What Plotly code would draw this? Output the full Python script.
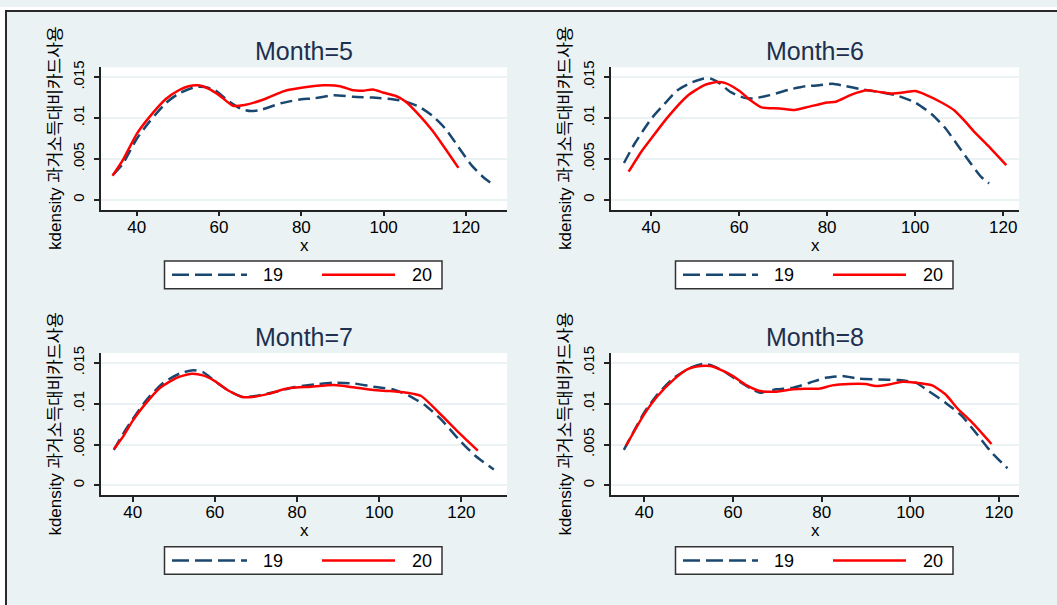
import plotly.graph_objects as go

# ---------------- data (density values) ----------------
months = ["Month=5", "Month=6", "Month=7", "Month=8"]
series_names = ["19", "20"]
x_ticks = [40, 60, 80, 100, 120]
y_ticks = [0, 0.005, 0.01, 0.015]
y_tick_text = ["0", ".005", ".01", ".015"]

m5_x19 = [34.3, 36.6, 40, 43, 47, 50.2, 54.2, 56.6, 59, 62.2, 65.4, 67.8, 70.2, 75, 80, 83, 87.8,
          92.6, 97.4, 102.2, 105.4, 108.6, 111.8, 115, 118.2, 121.4, 124.6, 126.8]
m5_y19 = [0.0031, 0.0044, 0.00746, 0.0095, 0.0118, 0.0130, 0.0138, 0.0138, 0.0134, 0.0121, 0.0111,
          0.01085, 0.0110, 0.0118, 0.0123, 0.0124, 0.0128, 0.0126, 0.0125, 0.0123, 0.0120, 0.0114,
          0.0103, 0.0087, 0.00645, 0.0042, 0.0026, 0.0018]
m5_x20 = [34.1, 36.6, 40, 43, 47, 50.2, 52.6, 55, 57.4, 60, 63.4, 66.2, 71, 75.8, 80, 85.4, 89.4,
          92.6, 95, 97.4, 100, 103, 105.4, 108.2, 111.8, 115, 118.2]
m5_y20 = [0.00294, 0.00484, 0.00806, 0.01008, 0.0123, 0.0134, 0.0139, 0.0140, 0.0136, 0.0128,
          0.0115, 0.0116, 0.0123, 0.0133, 0.0137, 0.0140, 0.0139, 0.0134, 0.01335, 0.0135, 0.0131,
          0.0127, 0.0120, 0.0106, 0.0085, 0.00625, 0.0039]

m6_x19 = [33.85, 36.25, 40, 43, 46, 49, 52, 53.5, 55.7, 58, 61, 63.2, 67, 71.5, 75.2, 78.2, 81.2,
          84.2, 88, 91.7, 96.2, 100, 103.7, 106.7, 109.7, 112.7, 115, 116.8]
m6_y19 = [0.0045, 0.00685, 0.00988, 0.0117, 0.0134, 0.0143, 0.01484, 0.01484, 0.0142, 0.0132,
          0.0125, 0.0124, 0.0128, 0.0135, 0.0139, 0.0140, 0.0142, 0.0139, 0.0135, 0.0132, 0.0127,
          0.0119, 0.0105, 0.00887, 0.00665, 0.0044, 0.0028, 0.0020]
m6_x20 = [34.9, 37.75, 40, 43.75, 48.25, 52, 55, 56.9, 60.1, 62.5, 65.1, 69.2, 72.6, 76, 80, 82,
          85.7, 89.1, 91.7, 94.7, 97.7, 100, 102.2, 106, 109, 111.2, 113.5, 116.5, 120.7]
m6_y20 = [0.00343, 0.00585, 0.00746, 0.01008, 0.0127, 0.0140, 0.0144, 0.01427, 0.0133, 0.0122,
          0.0113, 0.01117, 0.01097, 0.0114, 0.0119, 0.0120, 0.0129, 0.0134, 0.0132, 0.0130, 0.01315,
          0.0133, 0.0129, 0.0119, 0.0109, 0.00968, 0.00827, 0.00665, 0.00423]

m7_x19 = [35.4, 37.9, 40, 43.5, 47.5, 51.5, 54.7, 57.1, 60, 63.5, 66.7, 69.8, 74.6, 79.5, 84.3, 89,
          93.8, 98.6, 103.4, 107.4, 111.4, 115.4, 119.3, 123.3, 127.9]
m7_y19 = [0.00434, 0.0065, 0.0081, 0.01054, 0.01257, 0.0137, 0.0141, 0.01386, 0.01277, 0.01155,
          0.01082, 0.01094, 0.01143, 0.01204, 0.01236, 0.01257, 0.01248, 0.01208, 0.01175, 0.01094,
          0.00973, 0.0079, 0.00567, 0.00365, 0.00195]
m7_x20 = [35.5, 37.9, 40, 42.7, 46.7, 50.7, 54.3, 57.1, 60, 63.5, 66.7, 69.05, 73, 77.8, 83.4, 89,
          93.8, 98.6, 102.6, 106.6, 110.2, 114.5, 119.3, 124]
m7_y20 = [0.00446, 0.00616, 0.0079, 0.00973, 0.01196, 0.01317, 0.01366, 0.01346, 0.01277, 0.01155,
          0.01082, 0.01082, 0.0112, 0.01188, 0.01208, 0.01228, 0.0120, 0.01167, 0.01155, 0.01135,
          0.01094, 0.00892, 0.00649, 0.00426]

m8_x19 = [35.4, 40, 43, 46.7, 50.4, 53.4, 55.6, 57.9, 61.6, 64.6, 66.1, 69.8, 73.6, 77.3, 80.9, 84.7,
          88.4, 92.9, 97.4, 101.2, 104.1, 107.9, 111.6, 115.3, 118.3, 121.9]
m8_y19 = [0.00434, 0.00892, 0.01115, 0.01317, 0.01439, 0.01488, 0.0146, 0.01398, 0.01265, 0.01167,
          0.01135, 0.01176, 0.01196, 0.01257, 0.01317, 0.01338, 0.01305, 0.01297, 0.01289, 0.01257,
          0.01155, 0.01013, 0.00851, 0.00608, 0.00405, 0.0021]
m8_x20 = [35.9, 37.8, 40, 43, 46.7, 49.7, 52.7, 54.9, 57.9, 60, 63.1, 66.1, 69.8, 73.6, 76.5, 79.4,
          82.4, 86.2, 89.9, 92.2, 95.2, 98.2, 101.2, 104.9, 107.9, 110.8, 113.8, 118.3]
m8_y20 = [0.00486, 0.00669, 0.00872, 0.01094, 0.01297, 0.01419, 0.0146, 0.0146, 0.01398, 0.01338,
          0.01224, 0.01155, 0.01147, 0.01176, 0.01184, 0.01184, 0.01224, 0.0124, 0.0124, 0.01216,
          0.01236, 0.01269, 0.01257, 0.01224, 0.01115, 0.00932, 0.00778, 0.00507]

# ---------------- styling / layout constants ----------------
W, H = 1057, 605
FONT = "Liberation Sans, Arial, Noto Sans CJK KR, sans-serif"
NAVY = "#1a476f"
RED = "#ff0000"
BG = "#eaf2f3"
TITLE_C = "#1e2f4f"
AXIS_C = "#222222"

# plot-area pixel boxes (left, right, top, bottom) and axis ranges
boxes = [(101, 507, 61, 205), (611, 1019, 61, 205), (101, 507, 350, 494), (611, 1019, 350, 494)]
xranges = [(31.3, 130.0), (30.9, 123.6), (32.3, 131.1), (32.5, 124.5)]
yrange = (-0.00121, 0.01621)

data = [
    (m5_x19, m5_y19, m5_x20, m5_y20),
    (m6_x19, m6_y19, m6_x20, m6_y20),
    (m7_x19, m7_y19, m7_x20, m7_y20),
    (m8_x19, m8_y19, m8_x20, m8_y20),
]


def fx(p):
    return p / W


def fy(p):
    return 1 - p / H


fig = go.Figure()
shapes = []
annotations = []
layout = {}

for i, (title, box, xr, d) in enumerate(zip(months, boxes, xranges, data), start=1):
    l, r, t, b = box
    xa = "x" if i == 1 else f"x{i}"
    ya = "y" if i == 1 else f"y{i}"
    x19, y19, x20, y20 = d
    fig.add_trace(go.Scatter(x=x19, y=y19, xaxis=xa, yaxis=ya, mode="lines", name=series_names[0],
                             line=dict(color=NAVY, width=2.5, dash="12px,6px", shape="spline", smoothing=0.6),
                             showlegend=False))
    fig.add_trace(go.Scatter(x=x20, y=y20, xaxis=xa, yaxis=ya, mode="lines", name=series_names[1],
                             line=dict(color=RED, width=2.5, shape="spline", smoothing=0.6),
                             showlegend=False))

    xkey = "xaxis" if i == 1 else f"xaxis{i}"
    ykey = "yaxis" if i == 1 else f"yaxis{i}"
    layout[xkey] = dict(domain=[fx(l), fx(r)], range=list(xr), anchor=ya,
                        tickvals=x_ticks, ticks="outside", ticklen=5, tickwidth=1.5, tickcolor=AXIS_C,
                        showline=True, linecolor=AXIS_C, linewidth=1.5, showgrid=False, zeroline=False,
                        ticklabelstandoff=-4,
                        tickfont=dict(size=17, color="#000000", family=FONT))
    layout[ykey] = dict(domain=[fy(b), fy(t)], range=list(yrange), anchor=xa,
                        tickvals=y_ticks, ticktext=y_tick_text, tickangle=-90,
                        ticks="outside", ticklen=5, tickwidth=1.5, tickcolor=AXIS_C,
                        showline=True, linecolor=AXIS_C, linewidth=1.5,
                        showgrid=True, gridcolor=BG, gridwidth=1.5, zeroline=False,
                        ticklabelstandoff=4,
                        tickfont=dict(size=15, color="#000000", family=FONT))

    cx = (l + r) / 2
    cy = (t + b) / 2
    # panel title
    annotations.append(dict(text=title, x=fx(cx), y=fy(t - 16), xref="paper", yref="paper",
                            xanchor="center", yanchor="middle", showarrow=False,
                            font=dict(size=25, color=TITLE_C, family=FONT)))
    # y-axis title
    annotations.append(dict(text="kdensity 과거소득대비카드사용", x=fx(l - 45.5), y=fy(cy),
                            xref="paper", yref="paper", xanchor="center", yanchor="middle",
                            textangle=-90, showarrow=False,
                            font=dict(size=17, color="#000000", family=FONT)))
    # x-axis title
    annotations.append(dict(text="x", x=fx(cx), y=fy(b + 36), xref="paper", yref="paper",
                            xanchor="center", yanchor="middle", showarrow=False,
                            font=dict(size=17, color="#000000", family=FONT)))
    # legend box
    ly = b + 66
    shapes.append(dict(type="rect", xref="paper", yref="paper",
                       x0=fx(cx - 139.5), x1=fx(cx + 138), y0=fy(ly + 14), y1=fy(ly - 14),
                       fillcolor="white", line=dict(color="#333333", width=1.5), layer="above"))
    shapes.append(dict(type="line", xref="paper", yref="paper",
                       x0=fx(cx - 132), x1=fx(cx - 57), y0=fy(ly), y1=fy(ly),
                       line=dict(color=NAVY, width=2.5, dash="17px,6px")))
    shapes.append(dict(type="line", xref="paper", yref="paper",
                       x0=fx(cx + 18), x1=fx(cx + 91), y0=fy(ly), y1=fy(ly),
                       line=dict(color=RED, width=2.5)))
    annotations.append(dict(text=series_names[0], x=fx(cx - 31), y=fy(ly), xref="paper", yref="paper",
                            xanchor="center", yanchor="middle", showarrow=False,
                            font=dict(size=18, color="#000000", family=FONT)))
    annotations.append(dict(text=series_names[1], x=fx(cx + 117.5), y=fy(ly), xref="paper", yref="paper",
                            xanchor="center", yanchor="middle", showarrow=False,
                            font=dict(size=18, color="#000000", family=FONT)))

# outer frame (white outside strip + dark border)
shapes.append(dict(type="rect", xref="paper", yref="paper", x0=0, x1=fx(5), y0=0, y1=1,
                   fillcolor="white", line=dict(width=0), layer="above"))
shapes.append(dict(type="rect", xref="paper", yref="paper", x0=0, x1=1, y0=fy(3), y1=1,
                   fillcolor="white", line=dict(width=0), layer="above"))
shapes.append(dict(type="line", xref="paper", yref="paper", x0=fx(6), x1=fx(6), y0=0, y1=fy(3),
                   line=dict(color="#2a2a2a", width=2)))
shapes.append(dict(type="line", xref="paper", yref="paper", x0=fx(5), x1=1, y0=fy(4), y1=fy(4),
                   line=dict(color="#2a2a2a", width=2)))

fig.update_layout(
    width=W, height=H,
    margin=dict(l=0, r=0, t=0, b=0),
    paper_bgcolor=BG, plot_bgcolor="white",
    font=dict(family=FONT, color="#000000"),
    showlegend=False,
    shapes=shapes, annotations=annotations,
    **layout,
)

post = (
    "document.documentElement.style.margin='0';document.documentElement.style.padding='0';"
    "document.documentElement.style.overflow='hidden';"
    "document.body.style.margin='0';document.body.style.padding='0';document.body.style.overflow='hidden';"
    "var gd=document.querySelector('.plotly-graph-div');"
    "gd.style.position='fixed';gd.style.left='0px';gd.style.top='0px';"
    "window.scrollTo(0,0);"
)

fig.write_html("out.html", config={"displayModeBar": False}, post_script=post)
